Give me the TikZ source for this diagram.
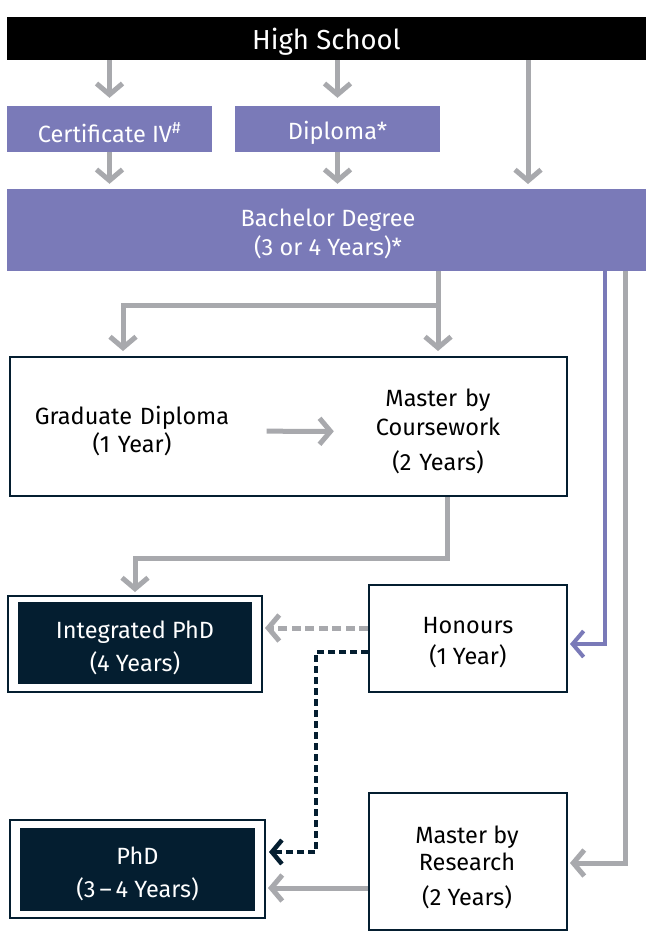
\documentclass[tikz,border=0pt]{standalone}
\usepackage{fontspec}
\setmainfont{Fira Sans}
\usetikzlibrary{arrows.meta,calc}
\definecolor{purp}{HTML}{7A7AB8}
\definecolor{navy}{HTML}{041E30}
\definecolor{lgrey}{HTML}{A8A9AD}
\begin{document}
\begin{tikzpicture}[x=1pt,y=-1pt,
  every node/.style={font=\fontsize{23.5}{29}\selectfont, inner sep=0pt},
  pbox/.style={fill=purp},
  wbox/.style={draw=navy, line width=2pt, fill=white},
  dfill/.style={fill=navy},
  wtext/.style={text=white, align=center},
  btext/.style={text=black, align=center},
  gline/.style={draw=lgrey, line width=5pt},
  tip/.style={-{Straight Barb[length=11pt,width=26pt]}},
  garrow/.style={gline, tip, shorten >=5pt},
  parrow/.style={draw=purp, line width=4pt, tip, shorten >=2pt},
  gdash/.style={draw=lgrey, line width=5pt, dash pattern=on 9pt off 4.5pt, tip, shorten >=2pt},
  ddash/.style={draw=navy, line width=4.5pt, dash pattern=on 7pt off 4pt, -{Straight Barb[length=10pt,width=24pt]}, shorten >=3pt},
]
\useasboundingbox (0,0) rectangle (646,931);
\fill[white] (0,0) rectangle (646,931);

% boxes
\node[fill=black, minimum width=639pt, minimum height=43pt] (hs) at (326.5,38.5) {};
\node[wtext, font=\fontsize{27.5}{32}\selectfont] (hst) at (326.5,41.5) {High School};
\node[pbox, minimum width=205pt, minimum height=46pt] (cert) at (109.5,129) {};
\node[wtext] (certt) at (109.5,132.5) {Certificate IV\textsuperscript{\#}};
\node[pbox, minimum width=205pt, minimum height=46pt] (dip) at (337.5,129) {};
\node[wtext] (dipt) at (337.5,132.5) {Diploma*};
\node[pbox, minimum width=639pt, minimum height=82pt] (bach) at (326.5,230) {};
\node[wtext] (bacht) at (328,234) {Bachelor Degree\\(3 or 4 Years)*};

\node[wbox, minimum width=557pt, minimum height=139pt] (gbox) at (288.5,426.5) {};
\node[btext, text width=201pt] (grad) at (132,431) {Graduate Diploma\\[-1pt](1 Year)};
\node[btext, text width=150pt] (mbc) at (438,431.5) {Master by\\Coursework\\[6pt](2 Years)};

\node[wbox, minimum width=254pt, minimum height=96pt] (iphdo) at (135,644) {};
\node[dfill, minimum width=234pt, minimum height=82pt] (iphd) at (135,643) {};
\node[wtext] (iphdt) at (135,647.5) {Integrated PhD\\[4pt](4 Years)};

\node[wbox, minimum width=198pt, minimum height=107pt] (hon) at (468,638.5) {};
\node[btext] (hont) at (468,642.5) {Honours\\[2pt](1 Year)};

\node[wbox, minimum width=255pt, minimum height=98pt] (phdo) at (137.5,869) {};
\node[dfill, minimum width=235pt, minimum height=83pt] (phd) at (137.5,869.5) {};
\node[wtext] (phdt) at (137.5,874) {PhD\\[4pt](3\,–\,4 Years)};

\node[wbox, minimum width=198pt, minimum height=137pt] (mbr) at (468,861.5) {};
\node[btext] (mbrt) at (467,867.5) {Master by\\[-2pt]Research\\[6pt](2 Years)};

% helper coordinates
\coordinate (bachin) at (528,189);
\coordinate (split) at (438,305);
\coordinate (gx) at (123,0);
\coordinate (m1) at (447,558);
\coordinate (pv) at (605,0);
\coordinate (gv) at (625,0);
\coordinate (dk) at (316,0);

% connectors
\draw[garrow, shorten >=8pt] (hs.south -| cert) -- (cert);
\draw[garrow, shorten >=8pt] (hs.south -| dip) -- (dip);
\draw[garrow] (hs.south -| bachin) -- (bachin);
\draw[garrow] (cert) -- (bach.north -| cert);
\draw[garrow] (dip) -- (bach.north -| dip);

\draw[gline] (bach.south -| split) -- (split);
\draw[garrow] (split) -| (gbox.north -| gx);
\draw[garrow] (split) -- (gbox.north -| split);
\draw[garrow, shorten <=34pt, shorten >=29pt] (grad) -- (mbc);

\draw[garrow, shorten >=3pt] (gbox.south -| m1) -- (m1) -| (iphdo.north);

\draw[parrow] (bach.south -| pv) |- ([yshift=-5.5pt]hon.east);
\draw[garrow, shorten >=2pt] (bach.south -| gv) |- ([yshift=-1.5pt]mbr.east);

\draw[gdash] ([yshift=16pt]iphdo.east -| hon.west) -- ([yshift=16pt]iphdo.east);
\draw[ddash] ([yshift=-13.5pt]hon.west) -| ([yshift=17pt]phdo.east -| dk) -- ([yshift=17pt]phdo.east);
\draw[garrow, shorten >=2pt] ([yshift=-19pt]phdo.east -| mbr.west) -- ([yshift=-19pt]phdo.east);
\end{tikzpicture}
\end{document}
